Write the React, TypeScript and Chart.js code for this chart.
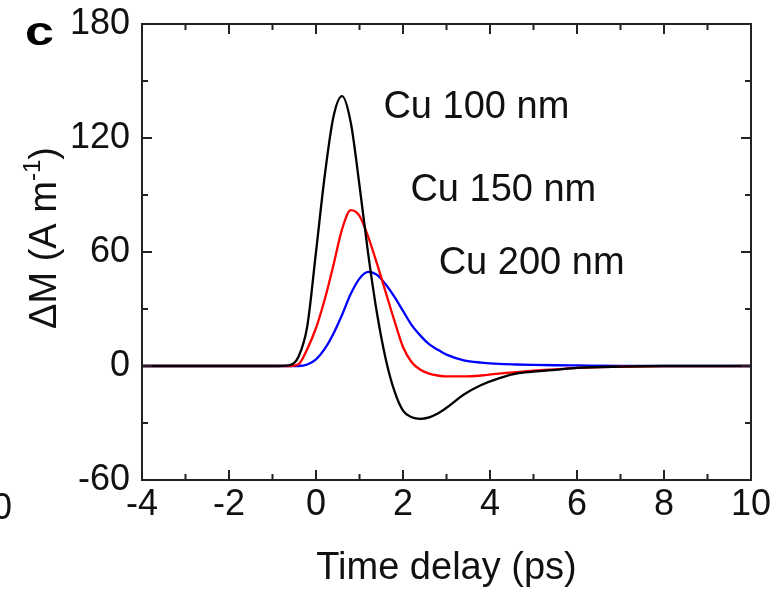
import React, { useEffect, useRef } from 'react';
import { Chart, registerables } from 'chart.js';

Chart.register(...registerables);

// ---- data ----
const timeDelay = [-4, -1, -0.6, -0.4, -0.2, 0, 0.2, 0.4, 0.6, 0.8, 1.0, 1.2, 1.4, 1.6, 1.8, 2.0, 2.2, 2.4, 2.6, 2.8, 3.0, 3.4, 3.8, 4.2, 4.6, 5.0, 5.5, 6, 7, 8, 10];
const cu100 = [0, 0, 0.5, 5, 21, 60, 100, 131, 142, 128, 95, 59, 28, 4, -13, -23.5, -27, -27.8, -27, -25, -22, -15, -10, -6.5, -4, -3, -2, -1, -0.3, 0, 0];
const cu150 = [0, 0, 0, 1, 9, 20, 35, 53, 72, 82, 79, 68, 54, 39, 24, 10, 2, -2, -4, -5, -5.5, -5.5, -5, -4, -3.2, -2.5, -1.8, -1, -0.4, -0.1, 0];
const cu200 = [0, 0, 0, 0, 0.8, 3.5, 9, 17, 27, 38, 46, 49.5, 48, 43, 36.5, 29, 21.5, 16, 11.5, 8.5, 6, 3, 1.8, 1.1, 0.8, 0.6, 0.4, 0.3, 0.1, 0, 0];

const seriesLabels = ['Cu 100 nm', 'Cu 150 nm', 'Cu 200 nm'];
const seriesColors = ['#000000', '#ff0000', '#0000ff'];
// label anchor in data coordinates (left edge / baseline)
const labelTimes = [1.55, 2.17, 2.82];
const labelValues = [130.7, 86.6, 48.6];

const xMajorTicks = [-4, -2, 0, 2, 4, 6, 8, 10];
const xMinorTicks = [-3, -1, 1, 3, 5, 7, 9];
const yMajorTicks = [-60, 0, 60, 120, 180];
const yMinorTicks = [-30, 30, 90, 150];

const xTitle = 'Time delay (ps)';
const yTitleMain = 'ΔM (A m';
const yTitleSup = '-1';
const yTitleEnd = ')';
const panelLetter = 'c';

const FONT = '"Liberation Sans", Arial, Helvetica, sans-serif';
const TEXT = '#111111';
const AXIS = '#222222';

const decorPlugin = {
  id: 'decor',
  afterDatasetsDraw(chart: any) {
    const { ctx, chartArea } = chart;
    const { left, right, top, bottom } = chartArea;
    const xs = chart.scales.x;
    const ys = chart.scales.y;
    ctx.save();
    ctx.strokeStyle = AXIS;
    ctx.lineWidth = 2;
    ctx.lineCap = 'butt';
    ctx.beginPath();
    const tick = (x1: number, y1: number, x2: number, y2: number) => {
      ctx.moveTo(x1, y1);
      ctx.lineTo(x2, y2);
    };
    xMajorTicks.forEach((v) => {
      const p = xs.getPixelForValue(v);
      tick(p, bottom, p, bottom - 10);
      tick(p, top, p, top + 10);
    });
    xMinorTicks.forEach((v) => {
      const p = xs.getPixelForValue(v);
      tick(p, bottom, p, bottom - 6);
      tick(p, top, p, top + 6);
    });
    yMajorTicks.forEach((v) => {
      const p = ys.getPixelForValue(v);
      tick(left, p, left + 10, p);
      tick(right, p, right - 10, p);
    });
    yMinorTicks.forEach((v) => {
      const p = ys.getPixelForValue(v);
      tick(left, p, left + 6, p);
      tick(right, p, right - 6, p);
    });
    ctx.stroke();
    ctx.strokeRect(left, top, right - left, bottom - top);
    ctx.restore();
  },
  afterDraw(chart: any) {
    const { ctx, chartArea } = chart;
    const xs = chart.scales.x;
    const ys = chart.scales.y;
    ctx.save();
    ctx.fillStyle = TEXT;
    ctx.textBaseline = 'alphabetic';

    // series labels
    ctx.font = `38px ${FONT}`;
    ctx.textAlign = 'left';
    seriesLabels.forEach((s, i) => {
      ctx.fillText(s, xs.getPixelForValue(labelTimes[i]), ys.getPixelForValue(labelValues[i]));
    });

    // x title
    ctx.textAlign = 'center';
    ctx.fillText(xTitle, (chartArea.left + chartArea.right) / 2, 579);

    // y title (rotated, with superscript)
    ctx.save();
    ctx.translate(56, 238);
    ctx.rotate(-Math.PI / 2);
    ctx.textAlign = 'left';
    ctx.font = `38px ${FONT}`;
    const w1 = ctx.measureText(yTitleMain).width;
    const w3 = ctx.measureText(yTitleEnd).width;
    ctx.font = `24px ${FONT}`;
    const w2 = ctx.measureText(yTitleSup).width;
    const total = w1 + w2 + w3;
    let x0 = -total / 2;
    ctx.font = `38px ${FONT}`;
    ctx.fillText(yTitleMain, x0, 0);
    x0 += w1;
    ctx.font = `24px ${FONT}`;
    ctx.fillText(yTitleSup, x0, -16);
    x0 += w2;
    ctx.font = `38px ${FONT}`;
    ctx.fillText(yTitleEnd, x0, 0);
    ctx.restore();

    // panel letter
    ctx.save();
    ctx.font = `bold 40px ${FONT}`;
    ctx.fillStyle = '#000';
    ctx.textAlign = 'left';
    ctx.translate(25, 45);
    ctx.scale(1.3, 1);
    ctx.fillText(panelLetter, 0, 0);
    ctx.restore();

    // clipped tick label from neighbouring panel
    ctx.font = `36px ${FONT}`;
    ctx.textAlign = 'left';
    ctx.fillText('0', -8, 519);

    ctx.restore();
  },
};

export default function App() {
  const ref = useRef<HTMLCanvasElement>(null);
  useEffect(() => {
    document.body.style.margin = '0';
    const canvas = ref.current!;
    const series = [cu100, cu150, cu200];
    const chart = new Chart(canvas, {
      type: 'line',
      data: {
        datasets: series.map((vals, i) => ({
          label: seriesLabels[i],
          data: timeDelay.map((t, j) => ({ x: t, y: vals[j] })),
          borderColor: seriesColors[i],
          backgroundColor: seriesColors[i],
          borderWidth: 2.3,
          pointRadius: 0,
          fill: false,
          cubicInterpolationMode: 'monotone' as const,
        })),
      },
      options: {
        responsive: false,
        animation: false,
        devicePixelRatio: 1,
        layout: { padding: { top: 24, right: 24, left: 0, bottom: 0 } },
        plugins: { legend: { display: false }, tooltip: { enabled: false } },
        scales: {
          x: {
            type: 'linear',
            min: -4,
            max: 10,
            ticks: {
              stepSize: 2,
              padding: 3,
              color: TEXT,
              font: { family: FONT, size: 36 },
              maxRotation: 0,
              autoSkip: false,
            },
            grid: { display: false, drawTicks: false },
            border: { display: false },
            afterFit: (s: any) => {
              s.height = 109;
              s.paddingLeft = 0;
              s.paddingRight = 0;
              s.paddingTop = 0;
              s.paddingBottom = 0;
            },
          },
          y: {
            type: 'linear',
            min: -60,
            max: 180,
            ticks: {
              stepSize: 60,
              padding: 12,
              color: TEXT,
              font: { family: FONT, size: 36 },
            },
            grid: { display: false, drawTicks: false },
            border: { display: false },
            afterFit: (s: any) => {
              s.width = 142;
              s.paddingLeft = 0;
              s.paddingRight = 0;
              s.paddingTop = 0;
              s.paddingBottom = 0;
            },
          },
        },
      },
      plugins: [decorPlugin],
    } as any);
    return () => chart.destroy();
  }, []);
  return (
    <div style={{ position: 'absolute', left: 0, top: 0, width: 775, height: 589, background: '#fff' }}>
      <canvas ref={ref} width={775} height={589} style={{ display: 'block' }} />
    </div>
  );
}
